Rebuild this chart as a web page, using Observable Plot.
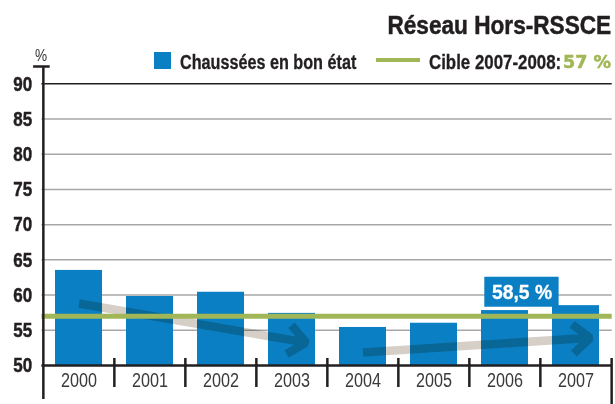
<!DOCTYPE html>
<html>
<head>
<meta charset="utf-8">
<script src="https://cdn.jsdelivr.net/npm/d3@7"></script>
<script src="https://cdn.jsdelivr.net/npm/@observablehq/plot@0.6"></script>
<style>
  body { margin: 0; background: #fff; }
  #wrap { position: relative; width: 615px; height: 404px; overflow: hidden;
          font-family: "Liberation Sans", Arial, sans-serif; color: #231f20; }
  #chart { position: absolute; left: 0; top: 0; }
  .abs { position: absolute; white-space: nowrap; line-height: 1; }
  #title { right: 4px; top: 12px; font-size: 26px; font-weight: bold; -webkit-text-stroke: 0.5px #231f20;
           transform: scaleX(0.87); transform-origin: right center; }
  #unit { left: 35px; top: 47px; font-size: 17px; color: #333;
          transform: scaleX(0.8); transform-origin: left center; }
  #swatch { left: 154px; top: 52px; width: 17px; height: 17px; background: #0a7fc3; }
  #lg1 { left: 180px; top: 52.5px; font-size: 19.5px; font-weight: bold; -webkit-text-stroke: 0.3px #231f20;
         transform: scaleX(0.83); transform-origin: left center; }
  #gline { left: 376px; top: 58px; width: 44px; height: 4px; background: #a1b757; }
  #lg2 { left: 429px; top: 52.5px; font-size: 19.5px; font-weight: bold; -webkit-text-stroke: 0.3px #231f20;
         transform: scaleX(0.865); transform-origin: left center; }
  #lg3 { right: 4px; top: 54.2px; font-size: 17.5px; font-weight: bold; color: #a1b757;
         -webkit-text-stroke: 0.5px #a1b757; font-family: "DejaVu Sans", sans-serif; }
  g[aria-label="y-axis tick label"] text { stroke: #231f20; stroke-width: 0.5px; }
  g[aria-label="text"] text { stroke: #fff; stroke-width: 0.3px; }
</style>
</head>
<body>
<div id="wrap">
  <div id="chart"></div>
  <div class="abs" id="title">Réseau Hors-RSSCE</div>
  <div class="abs" id="unit">%</div>
  <div class="abs" id="swatch"></div>
  <div class="abs" id="lg1">Chaussées en bon état</div>
  <div class="abs" id="gline"></div>
  <div class="abs" id="lg2">Cible 2007-2008:</div>
  <div class="abs" id="lg3">57 %</div>
</div>
<script>
// ---- data ----
const years = ["2000", "2001", "2002", "2003", "2004", "2005", "2006", "2007"];
const goodCondition = [63.5, 59.8, 60.4, 57.4, 55.4, 56.0, 57.8, 58.5];
const target = 57;
const yTicks = [50, 55, 60, 65, 70, 75, 80, 85, 90];
const trendFrom = ["2000", "2004"];
const trendTo = ["2003", "2007"];
const trendFromValue = [58.8, 51.85];
const trendToValue = [53.6, 53.8];
const labelYear = "2007";
const labelValue = 58.5;
const labelText = "58,5 %";

// ---- tables built from the arrays ----
const bars = years.map((year, i) => ({year, value: goodCondition[i]}));
const trends = trendFrom.map((f, i) => ({from: f, to: trendTo[i], v1: trendFromValue[i], v2: trendToValue[i]}));
const labels = [{year: labelYear, value: labelValue, text: labelText}];

// ---- layout ----
const W = 615, H = 404, ML = 41.4, MR = 3.3, MT = 83.3, MB = 39;
const plotW = W - ML - MR;
const step = plotW / years.length;
const yBase = yTicks[0], yTop = yTicks[yTicks.length - 1];
const font = '"Liberation Sans", Arial, sans-serif';
const blue = "#0a7fc3", green = "#a1b757", ink = "#231f20";

const chart = Plot.plot({
  width: W, height: H,
  marginLeft: ML, marginRight: MR, marginTop: MT, marginBottom: MB,
  style: {fontFamily: font, background: "transparent"},
  x: {domain: years, paddingInner: 0.345, paddingOuter: 0.1725, label: null},
  y: {domain: [yBase, yTop], label: null},
  marks: [
    Plot.ruleY(yTicks.filter(t => t > yBase && t < yTop), {stroke: "#a7a7a7", strokeWidth: 1.5}),
    Plot.ruleY([yTop], {stroke: ink, strokeWidth: 1.5}),
    Plot.barY(bars, {x: "year", y1: () => yBase, y2: "value", fill: blue}),
    Plot.arrow(trends, {
      x1: "from", y1: "v1", x2: "to", y2: "v2",
      stroke: "#d6cfc7", strokeWidth: 8.5, headLength: 4, headAngle: 80,
      insetEnd: -14.3, mixBlendMode: "multiply", strokeLinecap: "butt", strokeLinejoin: "miter"
    }),
    Plot.ruleY([target], {stroke: green, strokeWidth: 5}),
    Plot.barY(labels, {x: "year", y1: "value", y2: "value", fill: blue,
      insetLeft: -67.7, insetRight: 40.4, insetTop: -28.4, insetBottom: -1.6}),
    Plot.text(labels, {x: "year", y: "value", text: "text", dx: -54, dy: -13.4,
      fill: "white", fontSize: 21, fontWeight: "bold", fontFamily: font}),
    // axis lines
    Plot.ruleY([yBase], {stroke: ink, strokeWidth: 2.5}),
    Plot.ruleX([years[0]], {x: d => d, y1: () => yTop, y2: () => yBase, dx: -step / 2,
      insetTop: -17.3, insetBottom: -34, stroke: ink, strokeWidth: 2.5}),
    Plot.ruleY([yTop], {dy: -17.3, insetLeft: -8.3, insetRight: plotW - 8.3, stroke: ink, strokeWidth: 2.5}),
    Plot.ruleX(years.slice(1), {x: d => d, y1: () => yBase, y2: () => yBase, dx: -step / 2,
      insetTop: -7, insetBottom: -22, stroke: ink, strokeWidth: 2.5}),
    Plot.ruleX([years[years.length - 1]], {x: d => d, y1: () => yBase, y2: () => yBase, dx: step / 2,
      insetTop: -7, insetBottom: -39, stroke: ink, strokeWidth: 2.5}),
    Plot.axisY({ticks: yTicks, tickSize: 0, tickPadding: 9.7, fontSize: 21, fontWeight: "bold",
      fill: ink, fontFamily: font, label: null}),
    Plot.axisX({tickSize: 0, tickPadding: 8, fontSize: 19.5, fill: "#3a3a3a", fontFamily: font, label: null})
  ]
});
document.getElementById("chart").appendChild(chart);

// condense SVG text (condensed typeface look) while keeping it real text
function condense(selector, factor) {
  chart.querySelectorAll(selector).forEach(t => {
    const len = t.getComputedTextLength();
    t.setAttribute("textLength", (len * factor).toFixed(2));
    t.setAttribute("lengthAdjust", "spacingAndGlyphs");
  });
}
condense('g[aria-label="y-axis tick label"] text', 0.81);
condense('g[aria-label="x-axis tick label"] text', 0.83);
condense('g[aria-label="text"] text', 0.92);
</script>
</body>
</html>
